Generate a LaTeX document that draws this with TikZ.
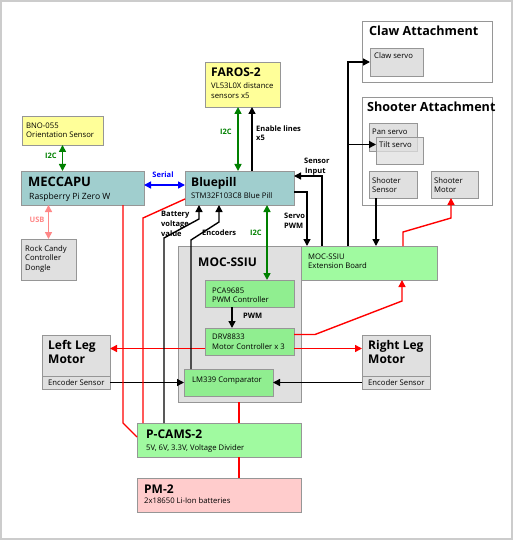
\documentclass[tikz,border=0pt]{standalone}
\usepackage{fontspec}
\setmainfont{Open Sans}
\usetikzlibrary{arrows.meta}
\definecolor{cteal}{RGB}{160,206,206}
\definecolor{cyel}{RGB}{255,255,153}
\definecolor{cgray}{RGB}{224,224,224}
\definecolor{cgrn}{RGB}{144,238,144}
\definecolor{clgrn}{RGB}{160,250,160}
\definecolor{cpink}{RGB}{255,204,204}
\definecolor{cbord}{RGB}{150,150,150}
\definecolor{cdg}{RGB}{0,128,0}
\definecolor{cusb}{RGB}{255,136,136}
\definecolor{cred}{RGB}{255,0,0}
\begin{document}
\begin{tikzpicture}[x=1pt,y=-1pt,
  box/.style={draw=cbord,line width=0.8,outer sep=0,inner sep=0,anchor=north west},
  ttl/.style={anchor=base west,inner sep=0,font=\fontsize{12}{14}\selectfont\bfseries},
  bigttl/.style={anchor=base west,inner sep=0,font=\fontsize{13}{15}\selectfont\bfseries},
  attl/.style={anchor=base west,inner sep=0,font=\fontsize{12.6}{15}\selectfont\bfseries},
  sub/.style={anchor=base west,inner sep=0,font=\fontsize{7.7}{9}\selectfont},
  bigsub/.style={anchor=base west,inner sep=0,font=\fontsize{8.6}{10}\selectfont},
  lbl/.style={anchor=base west,inner sep=0,font=\fontsize{7.5}{9}\selectfont\bfseries},
  blk/.style={line width=1.4,-{Triangle[length=7,width=7]}},
  rarr/.style={line width=1.4,draw=cred,-{Triangle[length=7,width=7]}},
  rline/.style={line width=1.4,draw=cred},
  grn/.style={line width=1.6,draw=cdg,{Triangle[length=7,width=7]}-{Triangle[length=7,width=7]}},
  dbl/.style={line width=1.6,{Triangle[length=7,width=7]}-{Triangle[length=7,width=7]}},
]
\useasboundingbox (0,0) rectangle (513,540);
\draw[draw=black!20,line width=2] (1,1) rectangle (512,539);

% --- boxes
\node[box,fill=cyel,minimum width=81,minimum height=29] (bno) at (22,116) {};
\node[box,fill=cteal,minimum width=123,minimum height=34] (mec) at (21,171) {};
\node[box,fill=cgray,minimum width=55,minimum height=41] (rc) at (21,239) {};
\node[box,fill=cteal,minimum width=109,minimum height=34] (bp) at (185,171) {};
\node[box,fill=cyel,minimum width=75,minimum height=45] (far) at (205,62) {};
\node[box,fill=white,minimum width=130,minimum height=61] (claw) at (362,21) {};
\node[box,fill=cgray,minimum width=53,minimum height=28] (cs) at (370,48) {};
\node[box,fill=white,minimum width=130,minimum height=108] (shoot) at (362,97) {};
\node[box,fill=cgray,minimum width=48,minimum height=28] (ps) at (369,123) {};
\node[box,fill=cgray,fill opacity=0.75,minimum width=47,minimum height=27] (ts) at (376,137) {};
\node[box,fill=cgray,minimum width=48,minimum height=27] (ss) at (369,171) {};
\node[box,fill=cgray,minimum width=47,minimum height=27] (sm) at (431,171) {};
\node[box,fill=cgray,minimum width=123,minimum height=156] (moc) at (178,246) {};
\node[box,fill=clgrn,minimum width=136,minimum height=34] (ext) at (301,246) {};
\node[box,fill=cgrn,minimum width=89,minimum height=27] (pca) at (205,280) {};
\node[box,fill=cgrn,minimum width=89,minimum height=27] (drv) at (205,328) {};
\node[box,fill=cgrn,minimum width=89,minimum height=27] (lm) at (184,369) {};
\node[box,fill=cgray,minimum width=68,minimum height=54] (ll) at (42,335) {};
\node[box,fill=cgray,minimum width=68,minimum height=54] (rl) at (362,335) {};
\draw[cbord,line width=0.8] ([yshift=13]ll.south west) -- ([yshift=13]ll.south east);
\draw[cbord,line width=0.8] ([yshift=13]rl.south west) -- ([yshift=13]rl.south east);
\node[box,fill=clgrn,minimum width=164,minimum height=34] (pc) at (137,423) {};
\node[box,fill=cpink,minimum width=164,minimum height=34] (pm) at (137,478) {};

% --- texts
\node[sub] (bno-a) at (26,129) {BNO-055};
\node[sub] (bno-b) at (26,138) {Orientation Sensor};
\node[bigttl] (mec-t) at (28,186) {MECCAPU};
\node[bigsub] (mec-s) at (29,199) {Raspberry Pi Zero W};
\node[sub] (rc-a) at (25,251) {Rock Candy};
\node[sub] (rc-b) at (25,260.5) {Controller};
\node[sub] (rc-c) at (25,270) {Dongle};
\node[ttl] (bp-t) at (191,186) {Bluepill};
\node[sub] (bp-s) at (191,198) {STM32F103C8 Blue Pill};
\node[ttl] (far-t) at (211,77) {FAROS-2};
\node[sub] (far-a) at (211,89) {VL53L0X distance};
\node[sub] (far-b) at (211,99) {sensors x5};
\node[attl] (claw-t) at (369,36) {Claw Attachment};
\node[sub] (cs-t) at (374,59) {Claw servo};
\node[attl] (shoot-t) at (367,112) {Shooter Attachment};
\node[sub] (ps-t) at (372,135) {Pan servo};
\node[sub] (ts-t) at (379,148) {Tilt servo};
\node[sub] (ss-a) at (372,183) {Shooter};
\node[sub] (ss-b) at (372,192) {Sensor};
\node[sub] (sm-a) at (434,183) {Shooter};
\node[sub] (sm-b) at (434,192) {Motor};
\node[ttl] (moc-t) at (198,266) {MOC-SSIU};
\node[sub] (ext-a) at (308,259) {MOC-SSIU};
\node[sub] (ext-b) at (308,268) {Extension Board};
\node[sub] (pca-a) at (212,293) {PCA9685};
\node[sub] (pca-b) at (212,302) {PWM Controller};
\node[sub] (drv-a) at (212,339) {DRV8833};
\node[sub] (drv-b) at (212,349) {Motor Controller x 3};
\node[sub] (lm-t) at (192,382) {LM339 Comparator};
\node[ttl] (ll-a) at (48,349) {Left Leg};
\node[ttl] (ll-b) at (48,363) {Motor};
\node[sub] (ll-c) at (48,385) {Encoder Sensor};
\node[ttl] (rl-a) at (368,349) {Right Leg};
\node[ttl] (rl-b) at (368,363) {Motor};
\node[sub] (rl-c) at (368,385) {Encoder Sensor};
\node[ttl] (pc-t) at (146,438) {P-CAMS-2};
\node[sub] (pc-s) at (146,450) {5V, 6V, 3.3V, Voltage Divider};
\node[ttl] (pm-t) at (144,493) {PM-2};
\node[sub] (pm-s) at (144,503) {2x18650 Li-Ion batteries};

% --- labels
\node[lbl,anchor=base,text=cdg] (l-i2c1) at (51,159) {I2C};
\node[lbl,anchor=base,text=cusb] (l-usb) at (37,222) {USB};
\node[lbl,anchor=base,text=blue] (l-ser) at (163,178) {Serial};
\node[lbl,anchor=base,text=cdg] (l-i2c2) at (226,135) {I2C};
\node[lbl] (l-en1) at (256,132) {Enable lines};
\node[lbl] (l-en2) at (256,141) {x5};
\node[lbl] (l-si1) at (304,164) {Sensor};
\node[lbl] (l-si2) at (305,173) {Input};
\node[lbl] (l-sp1) at (284,218) {Servo};
\node[lbl] (l-sp2) at (284,228) {PWM};
\node[lbl] (l-bv1) at (161,216) {Battery};
\node[lbl] (l-bv2) at (161,226) {voltage};
\node[lbl] (l-bv3) at (161,236) {value};
\node[lbl] (l-enc) at (202,235) {Encoders};
\node[lbl,anchor=base,text=cdg] (l-i2c3) at (256,235) {I2C};
\node[lbl] (l-pwm) at (243,318) {PWM};

% --- connectors
\draw[grn] (bno.south) -- (bno.south |- mec.north);
\draw[dbl,draw=cusb] (rc.north) -- (rc.north |- mec.south);
\draw[dbl,draw=blue] ([yshift=3]mec.east) -- ([yshift=3]mec.east -| bp.west);
\coordinate (fi) at ([xshift=53]bp.north west);
\draw[grn] (fi) -- (fi |- far.south);
\coordinate (fe) at ([xshift=67]bp.north west);
\draw[blk] (fe) -- (fe |- far.south);
\coordinate (sib) at ([yshift=12]bp.east);
\draw[blk] ([xshift=21]ext.north west) |- (sib);
\draw[blk] ([yshift=-4]bp.east) -| ([xshift=6]ext.north west);
\coordinate (vx) at ([xshift=47]ext.north west);
\draw[blk] (vx) |- (cs.west);
\coordinate (tsa) at ([yshift=6]ts.west);
\draw[blk] (vx |- tsa) -- (tsa);
\coordinate (ssx) at ([xshift=7]ss.south west);
\draw[blk] (ssx) -- (ssx |- ext.north);
\draw[rarr] ([xshift=102]ext.north west) -- ++(0,-14) -- (451,218) -- ([xshift=20]sm.south west);
\coordinate (pi) at ([xshift=82]bp.south west);
\draw[grn] (pi) -- (pi |- pca.north);
\coordinate (pw) at ([xshift=27]pca.south west);
\draw[blk] (pw) -- (pw |- drv.north);
\coordinate (dl) at ([yshift=-7]drv.west);
\draw[rarr] (dl) -- (dl -| ll.east);
\coordinate (dr) at ([yshift=-7]drv.east);
\draw[rarr] (dr) -- (dr -| rl.west);
\draw[rarr] ([yshift=7]drv.east) -- (315,334.5) -- (402,301) -- ([xshift=101]ext.south west);
\draw[blk] (lm.west -| ll.east) -- (lm.west);
\draw[blk] (lm.east -| rl.west) -- (lm.east);
\coordinate (mp) at ([xshift=61]moc.south west);
\draw[rline] (mp) -- (mp |- pc.north);
\coordinate (pp) at ([xshift=102]pc.south west);
\draw[rline] (pp) -- (pp |- pm.north);
\coordinate (r1) at ([xshift=102]mec.south west);
\draw[rline] (r1) -- (r1 |- pc.north) -- ([yshift=-14]pc.north west);
\draw[rline] ([yshift=6]bp.south west) -- (143,218) -- ([xshift=6]pc.north west);
\draw[blk] ([xshift=27]pc.north west) -- (164,238) -- (199,219) -- ([xshift=14]bp.south west);
\draw[blk] ([xshift=7]lm.north west) -- (191,240) -- (219,222) -- ([xshift=34]bp.south west);
\end{tikzpicture}
\end{document}
